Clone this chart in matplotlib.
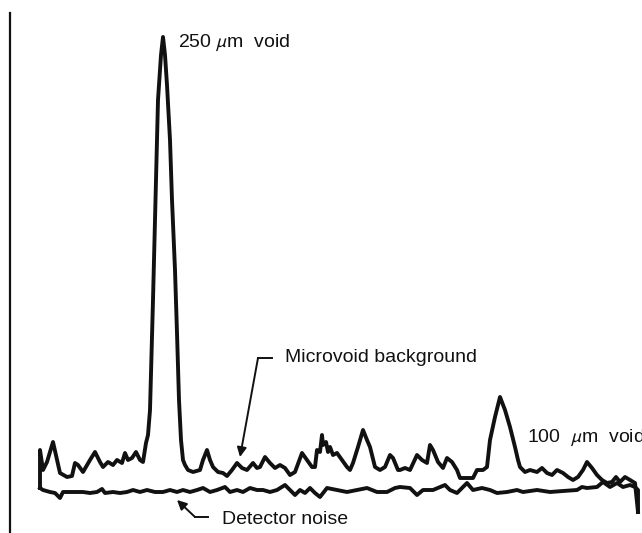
import matplotlib
matplotlib.use("Agg")
import matplotlib.pyplot as plt

plt.rcParams['font.family'] = ['Liberation Sans', 'DejaVu Sans']
plt.rcParams['mathtext.fontset'] = 'stixsans'

# scan position (channel) and signal amplitude
scan_pos = [30, 30, 33, 37, 43, 47, 50, 57, 62, 65, 68, 73, 80, 85, 90, 93, 98, 103, 107, 112,
            115, 118, 122, 126, 130, 133, 136, 138, 140, 143, 146, 148, 151, 153, 155, 157, 160, 162,
            165, 167, 169, 171, 173, 175, 178, 183, 190, 193, 197, 200, 203, 208, 213, 217, 222, 227,
            232, 237, 243, 247, 250, 255, 260, 265, 270, 275, 280, 285, 292, 297, 302, 305, 307, 310,
            312, 313, 316, 318, 320, 323, 327, 332, 337, 340, 343, 348, 353, 357, 360, 365, 370, 375,
            380, 383, 388, 390, 395, 400, 407, 412, 417, 420, 423, 428, 433, 437, 442, 447, 450, 455,
            463, 467, 473, 477, 480, 485, 490, 495, 500, 505, 508, 510, 515, 520, 527, 532, 537, 542,
            547, 553, 558, 563, 568, 573, 577, 582, 587, 592, 597, 602, 606, 610, 615, 620, 625, 628]
void_signal = [45, 83, 63, 71, 91, 73, 60, 56, 57, 70, 68, 61, 73, 81, 71, 66, 71, 68, 73, 70,
               80, 73, 75, 81, 73, 71, 90, 98, 123, 233, 353, 433, 478, 496, 478, 448, 393, 333,
               263, 200, 133, 93, 73, 68, 63, 61, 63, 73, 83, 73, 66, 61, 60, 57, 63, 70,
               65, 63, 70, 65, 66, 76, 70, 65, 68, 65, 58, 61, 80, 73, 66, 66, 83, 81,
               98, 88, 91, 81, 86, 78, 80, 73, 66, 63, 70, 86, 103, 93, 86, 66, 63, 66,
               78, 75, 63, 63, 65, 63, 78, 73, 70, 88, 83, 71, 65, 75, 71, 63, 55, 55,
               55, 63, 63, 66, 93, 116, 136, 123, 106, 86, 73, 66, 61, 63, 61, 65, 60, 58,
               63, 60, 56, 53, 56, 63, 71, 65, 58, 53, 50, 51, 56, 51, 56, 53, 50, 21]

noise_pos = [30, 33, 40, 45, 50, 53, 63, 73, 80, 87, 92, 95, 103, 110, 117, 123, 130, 137, 145,
             153, 160, 167, 173, 180, 187, 193, 200, 207, 215, 220, 227, 233, 240, 247, 253, 260,
             267, 275, 280, 285, 290, 295, 300, 305, 310, 317, 327, 337, 347, 357, 367, 377, 385,
             390, 400, 407, 413, 423, 435, 440, 447, 457, 463, 472, 480, 487, 497, 507, 513, 527,
             540, 553, 567, 572, 577, 587, 593, 600, 607, 613, 620, 625, 628, 628]
noise_signal = [45, 43, 41, 40, 35, 41, 41, 41, 40, 41, 44, 40, 41, 40, 41, 43, 41, 43, 41,
                41, 43, 41, 43, 41, 43, 45, 41, 43, 46, 41, 43, 41, 45, 43, 43, 41,
                43, 48, 43, 38, 43, 40, 45, 40, 36, 45, 43, 41, 43, 45, 41, 41, 45,
                46, 45, 38, 43, 43, 48, 43, 40, 50, 43, 45, 43, 40, 41, 43, 41, 43,
                41, 42, 43, 46, 45, 46, 51, 46, 50, 46, 48, 46, 43, 21]

ink = "#111111"

fig = plt.figure(figsize=(6.42, 5.33), dpi=100)
ax = fig.add_axes([10 / 642, 0, 632 / 642, 520 / 533])
ax.plot(scan_pos, void_signal, color=ink, lw=2.8, solid_joinstyle="round")
ax.plot(noise_pos, noise_signal, color=ink, lw=2.8, solid_joinstyle="round")
ax.set_xlim(0, 632)
ax.set_ylim(0, 520)

for side in ["top", "right", "bottom"]:
    ax.spines[side].set_visible(False)
ax.spines["left"].set_linewidth(1.6)
ax.spines["left"].set_color(ink)
ax.set_xticks([])
ax.set_yticks([])

fs = 14
ax.text(168, 490, "250 $\\mu$m  void", fontsize=fs, va="center", ha="left", color=ink)
ax.text(517, 95, "100  $\\mu$m  void", fontsize=fs, va="center", ha="left", color=ink)
ax.text(275, 175, "Microvoid background", fontsize=fs, va="center", ha="left", color=ink)
ax.text(212, 14, "Detector noise", fontsize=fs, va="center", ha="left", color=ink)

# leader lines
ax.plot([262, 248], [175, 175], color=ink, lw=1.4)
ax.annotate("", xy=(230, 76), xytext=(248, 175),
            arrowprops=dict(arrowstyle="-|>", color=ink, lw=1.4, mutation_scale=14, shrinkA=0, shrinkB=0))
ax.plot([198, 185], [16, 16], color=ink, lw=1.4)
ax.annotate("", xy=(167, 33), xytext=(185, 16),
            arrowprops=dict(arrowstyle="-|>", color=ink, lw=1.4, mutation_scale=14, shrinkA=0, shrinkB=0))

fig.savefig("out.png", dpi=100)
